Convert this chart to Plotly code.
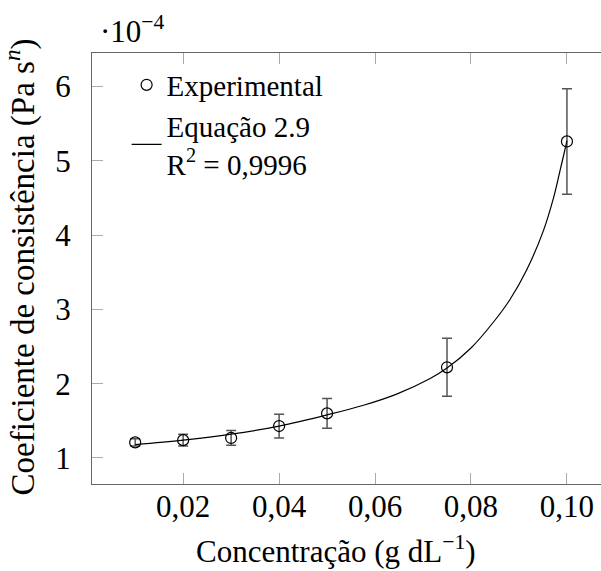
import plotly.graph_objects as go

# Experimental data (consistency coefficient in units of 1e-4 Pa s^n)
conc = [0.01, 0.02, 0.03, 0.04, 0.05, 0.075, 0.10]
k_exp = [1.21, 1.24, 1.27, 1.43, 1.60, 2.22, 5.26]
k_err = [0.05, 0.08, 0.10, 0.16, 0.20, 0.39, 0.71]

# Fitted curve (Equação 2.9)
fit_x = [0.010, 0.020, 0.030, 0.040, 0.050, 0.0576, 0.0645, 0.0715,
         0.075, 0.080, 0.0847, 0.0881, 0.0916, 0.0951, 0.0972, 0.0985, 0.0998, 0.100]
fit_y = [1.18, 1.24, 1.32, 1.43, 1.58, 1.71, 1.86, 2.07,
         2.21, 2.48, 2.83, 3.13, 3.53, 4.06, 4.50, 4.85, 5.21, 5.27]

x_tickvals = [0.02, 0.04, 0.06, 0.08, 0.10]
x_ticktext = ["0,02", "0,04", "0,06", "0,08", "0,10"]
y_tickvals = [1, 2, 3, 4, 5, 6]
y_ticktext = ["1", "2", "3", "4", "5", "6"]

FONT = "Liberation Serif"
FS = 31
AXIS_COLOR = "#666666"
TICK_COLOR = "#aaaaaa"

fig = go.Figure()

fig.add_trace(go.Scatter(
    x=conc, y=k_exp, mode="markers", name="Experimental",
    marker=dict(symbol="circle-open", size=11, color="black", line=dict(width=1.2, color="black")),
    error_y=dict(type="data", array=k_err, visible=True, color="#555555", thickness=1.5, width=5),
))

fig.add_trace(go.Scatter(
    x=fit_x, y=fit_y, mode="lines", name="Equação 2.9<br>R<sup>2</sup> = 0,9996",
    line=dict(color="black", width=1.2, shape="spline", smoothing=1.0),
))

fig.update_layout(
    width=601, height=571,
    margin=dict(l=92, r=0, t=53, b=87),
    paper_bgcolor="white", plot_bgcolor="white",
    font=dict(family=FONT, size=FS, color="black"),
    showlegend=True,
    legend=dict(x=0.068, y=0.985, xanchor="left", yanchor="top",
                bgcolor="rgba(0,0,0,0)", font=dict(family=FONT, size=29),
                tracegroupgap=0),
    xaxis=dict(
        range=[0.001, 0.1071], showline=True, linecolor=AXIS_COLOR, linewidth=1.3,
        mirror="ticks", ticks="inside", ticklen=11, tickcolor=TICK_COLOR, tickwidth=1.3,
        tickvals=x_tickvals, ticktext=x_ticktext, showgrid=False, zeroline=False,
        tickfont=dict(family=FONT, size=FS), automargin=False, ticklabelstandoff=-5,
    ),
    yaxis=dict(
        range=[0.65, 6.45], showline=True, linecolor=AXIS_COLOR, linewidth=1.3,
        mirror=False, ticks="inside", ticklen=11, tickcolor=TICK_COLOR, tickwidth=1.3,
        tickvals=y_tickvals, ticktext=y_ticktext, showgrid=False, zeroline=False,
        tickfont=dict(family=FONT, size=FS), ticklabelstandoff=14, automargin=False,
    ),
)

# Axis titles
fig.add_annotation(
    text="Concentração (g dL<sup>−1</sup>)", xref="paper", yref="paper",
    x=0.479, y=-0.153, xanchor="center", yanchor="middle", showarrow=False,
    font=dict(family=FONT, size=FS, color="black"),
)
fig.add_annotation(
    text="Coeficiente de consistência (Pa s<sup><i>n</i></sup>)", xref="paper", yref="paper",
    x=-0.141, y=0.503, xanchor="center", yanchor="middle", textangle=-90, showarrow=False,
    font=dict(family=FONT, size=33, color="black"),
)

# Multiplier
fig.add_annotation(
    text="·10<sup>−4</sup>", xref="paper", yref="paper", x=0.0, y=1.0,
    xanchor="left", yanchor="bottom", showarrow=False, yshift=2, xshift=6,
    font=dict(family=FONT, size=FS, color="black"),
)

fig.write_html("out.html", config={"displayModeBar": False},
               post_script="document.body.style.margin='0px';")
